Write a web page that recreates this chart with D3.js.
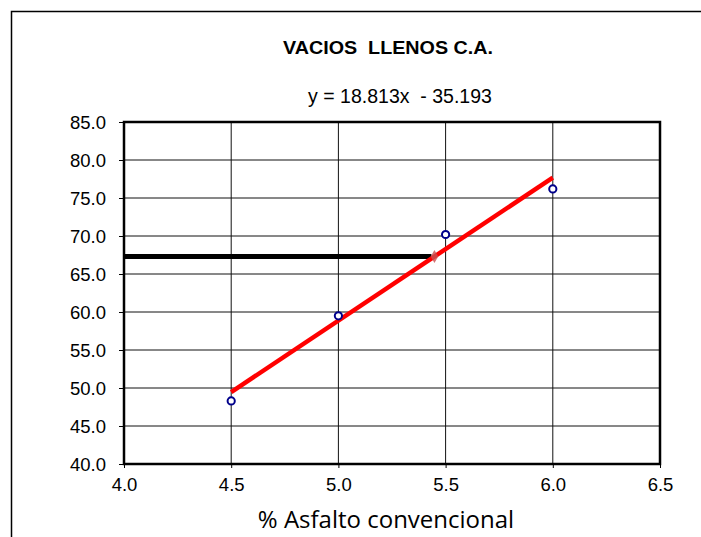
<!DOCTYPE html>
<html>
<head>
<meta charset="utf-8">
<script src="https://cdn.jsdelivr.net/npm/d3@7"></script>
<style>
  body { margin: 0; background: #fff; }
  svg { display: block; }
</style>
</head>
<body>
<svg id="chart" width="701" height="537"></svg>
<script>
// data
const asphalt = [4.5, 5.0, 5.5, 6.0];
const vfa = [48.3, 59.5, 70.2, 76.2];
const xTicks = [4.0, 4.5, 5.0, 5.5, 6.0, 6.5];
const yTicks = [40, 45, 50, 55, 60, 65, 70, 75, 80, 85];
const slope = 18.813;
const intercept = -35.193;
const target = [67.3]; // design value read across to the trend line

const svg = d3.select("#chart");
const plotLeft = 124, plotRight = 660, plotTop = 122, plotBottom = 464;
const labelFont = "'Liberation Sans', Arial, sans-serif";

// outer frame (open on the right / bottom like the crop)
svg.append("rect")
  .attr("x", 11.5).attr("y", 11.5)
  .attr("width", 720).attr("height", 560)
  .attr("fill", "none")
  .attr("stroke", "#000")
  .attr("stroke-width", 1.5);

const x = d3.scaleLinear().domain([4.0, 6.5]).range([plotLeft, plotRight]);
const y = d3.scaleLinear().domain([40, 85]).range([plotBottom, plotTop]);

// grid
svg.append("g")
  .selectAll("line")
  .data(xTicks.slice(1, -1))
  .join("line")
  .attr("x1", d => x(d)).attr("x2", d => x(d))
  .attr("y1", plotTop).attr("y2", plotBottom)
  .attr("stroke", "#111").attr("stroke-width", 1);

svg.append("g")
  .selectAll("line")
  .data(yTicks.slice(1, -1))
  .join("line")
  .attr("x1", plotLeft).attr("x2", plotRight)
  .attr("y1", d => y(d)).attr("y2", d => y(d))
  .attr("stroke", "#111").attr("stroke-width", 1);

// axes
const xAxis = svg.append("g")
  .attr("transform", `translate(0,${plotBottom})`)
  .call(d3.axisBottom(x).tickValues(xTicks).tickFormat(d3.format(".1f"))
    .tickSizeInner(4).tickSizeOuter(0).tickPadding(10));
const yAxis = svg.append("g")
  .attr("transform", `translate(${plotLeft},0)`)
  .call(d3.axisLeft(y).tickValues(yTicks).tickFormat(d3.format(".1f"))
    .tickSizeInner(5).tickSizeOuter(0).tickPadding(13));

[xAxis, yAxis].forEach(g => {
  g.select(".domain").remove();
  g.selectAll("line").attr("stroke", "#000");
  g.selectAll("text")
    .attr("fill", "#000")
    .style("font-family", labelFont)
    .style("font-size", "18.5px");
});
yAxis.selectAll("text").attr("dy", "0.34em");

// plot border
svg.append("rect")
  .attr("x", plotLeft).attr("y", plotTop)
  .attr("width", plotRight - plotLeft).attr("height", plotBottom - plotTop)
  .attr("fill", "none")
  .attr("stroke", "#000")
  .attr("stroke-width", 2.5);

// horizontal reading line
const xAt = v => (v - intercept) / slope;
svg.append("line")
  .data(target)
  .attr("x1", x(4.0)).attr("x2", d => x(xAt(d)) - 3)
  .attr("y1", d => y(d)).attr("y2", d => y(d))
  .attr("stroke", "#000").attr("stroke-width", 5);

// trend line
const trend = [4.5, 6.0].map(v => [v, slope * v + intercept]);
svg.append("path")
  .datum(trend)
  .attr("d", d3.line().x(d => x(d[0])).y(d => y(d[1])))
  .attr("stroke", "#ff0000")
  .attr("stroke-width", 4.5)
  .attr("fill", "none");

// small marker where the reading meets the trend
svg.append("path")
  .data(target)
  .attr("transform", d => `translate(${x(xAt(d))},${y(d)})`)
  .attr("d", d3.symbol(d3.symbolDiamond, 50))
  .attr("fill", "#c85050")
  .attr("opacity", 0.8);

// data points
svg.append("g")
  .selectAll("circle")
  .data(asphalt.map((a, i) => [a, vfa[i]]))
  .join("circle")
  .attr("cx", d => x(d[0]))
  .attr("cy", d => y(d[1]))
  .attr("r", 3.6)
  .attr("fill", "#fff")
  .attr("stroke", "#00008b")
  .attr("stroke-width", 2);

// titles
svg.append("text")
  .attr("x", 388).attr("y", 54)
  .attr("text-anchor", "middle")
  .attr("xml:space", "preserve")
  .attr("textLength", 210)
  .attr("lengthAdjust", "spacingAndGlyphs")
  .style("font-family", labelFont)
  .style("font-size", "18px")
  .style("font-weight", "bold")
  .text("VACIOS  LLENOS C.A.");

svg.append("text")
  .attr("x", 400).attr("y", 103)
  .attr("text-anchor", "middle")
  .attr("xml:space", "preserve")
  .style("font-family", labelFont)
  .style("font-size", "19.5px")
  .text("y = 18.813x  - 35.193");

svg.append("text")
  .attr("x", 386).attr("y", 528)
  .attr("text-anchor", "middle")
  .style("font-family", "'Open Sans', 'Noto Sans', sans-serif")
  .style("font-size", "24px")
  .text("% Asfalto convencional");
</script>
</body>
</html>
